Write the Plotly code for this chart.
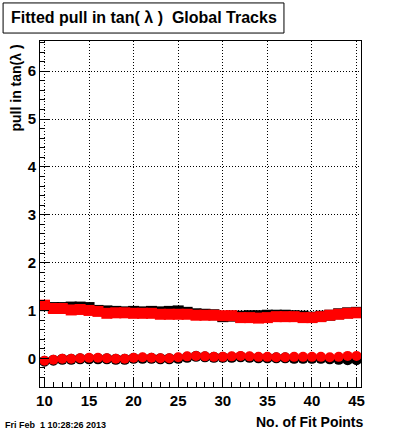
import plotly.graph_objects as go

n_fit = list(range(10, 46))

black_sigma = [1.10, 1.06, 1.06, 1.07, 1.07, 1.06, 1.00, 0.99, 0.98, 0.97, 0.98, 0.97,
               0.98, 0.97, 0.98, 0.99, 0.96, 0.93, 0.92, 0.91, 0.87, 0.88, 0.88, 0.89,
               0.89, 0.90, 0.90, 0.90, 0.89, 0.88, 0.86, 0.88, 0.90, 0.93, 0.95, 0.96]
red_sigma = [1.11, 1.04, 1.04, 1.01, 1.02, 1.00, 0.98, 0.94, 0.95, 0.95, 0.94, 0.94,
             0.94, 0.92, 0.92, 0.92, 0.92, 0.90, 0.90, 0.90, 0.89, 0.89, 0.85, 0.85,
             0.84, 0.85, 0.87, 0.87, 0.87, 0.85, 0.85, 0.87, 0.90, 0.92, 0.94, 0.95]
black_mean = [-0.06, -0.04, -0.02, -0.02, -0.01, -0.01, -0.01, -0.01, -0.02, -0.02, 0.00, 0.00,
              0.00, -0.01, -0.01, 0.00, 0.02, 0.04, 0.03, 0.02, 0.02, 0.02, 0.03, 0.02,
              0.01, 0.01, 0.01, 0.01, 0.00, 0.00, 0.00, 0.00, -0.01, -0.02, -0.03, -0.03]
red_mean = [-0.05, -0.03, -0.01, -0.01, 0.00, 0.01, 0.01, 0.00, -0.01, -0.01, 0.01, 0.02,
            0.01, 0.00, 0.00, 0.02, 0.04, 0.05, 0.04, 0.03, 0.03, 0.04, 0.05, 0.04,
            0.03, 0.03, 0.02, 0.02, 0.03, 0.03, 0.03, 0.03, 0.02, 0.03, 0.05, 0.05]

FONT = "Liberation Sans"

fig = go.Figure()
fig.add_trace(go.Scatter(x=n_fit, y=black_sigma, mode="markers",
                         marker=dict(symbol="square", size=11, color="black"), showlegend=False))
fig.add_trace(go.Scatter(x=n_fit, y=black_mean, mode="markers",
                         marker=dict(symbol="circle", size=11, color="black"), showlegend=False))
fig.add_trace(go.Scatter(x=n_fit, y=red_sigma, mode="markers",
                         marker=dict(symbol="square", size=11, color="red"), showlegend=False))
fig.add_trace(go.Scatter(x=n_fit, y=red_mean, mode="markers",
                         marker=dict(symbol="circle", size=10, color="red"), showlegend=False))

axis_common = dict(
    showline=True, linecolor="black", linewidth=1, mirror=True,
    ticks="inside", tickcolor="black", tickwidth=1,
    showgrid=True, gridcolor="black", gridwidth=1, griddash="1px,2px",
    zeroline=False,
    tickfont=dict(family=FONT, size=15, color="black", weight="bold"),
)

fig.update_layout(
    width=400, height=433,
    margin=dict(l=40, r=39, t=41, b=46),
    paper_bgcolor="white", plot_bgcolor="white",
    xaxis=dict(range=[9.5, 45.5], tick0=10, dtick=5, ticklen=9,
               minor=dict(dtick=1, ticks="inside", ticklen=5, tickcolor="black", showgrid=False),
               **axis_common),
    yaxis=dict(range=[-0.6, 6.63], tick0=0, dtick=1, ticklen=9,
               minor=dict(dtick=0.2, ticks="inside", ticklen=5, tickcolor="black", showgrid=False),
               **axis_common),
)

# title box
fig.add_shape(type="rect", xref="paper", yref="paper",
              x0=-0.115, x1=0.760, y0=1.023, y1=1.110,
              line=dict(color="black", width=1), fillcolor="white")
fig.add_annotation(xref="paper", yref="paper", x=(144 - 40) / 321, y=(387 - 18) / 346,
                   text="Fitted pull in tan( λ )  Global Tracks", showarrow=False,
                   xanchor="center", yanchor="middle",
                   font=dict(family=FONT, size=16, color="black", weight="bold"))
# y title
fig.add_annotation(xref="paper", yref="paper", x=(15 - 40) / 321, y=(387 - 43) / 346,
                   text="pull in tan(λ )", showarrow=False, textangle=-90,
                   xanchor="center", yanchor="top",
                   font=dict(family=FONT, size=14, color="black", weight="bold"))
# x title
fig.add_annotation(xref="paper", yref="paper", x=(366 - 40) / 321, y=(387 - 422) / 346,
                   text="No. of Fit Points", showarrow=False,
                   xanchor="right", yanchor="middle",
                   font=dict(family=FONT, size=14, color="black", weight="bold"))
# date
fig.add_annotation(xref="paper", yref="paper", x=(3 - 40) / 321, y=(387 - 425) / 346,
                   text="Fri Feb  1 10:28:26 2013", showarrow=False,
                   xanchor="left", yanchor="middle",
                   font=dict(family=FONT, size=9, color="black", weight="bold"))

fig.write_html("out.html", config={"displayModeBar": False},
               post_script="document.body.style.margin='0';")
